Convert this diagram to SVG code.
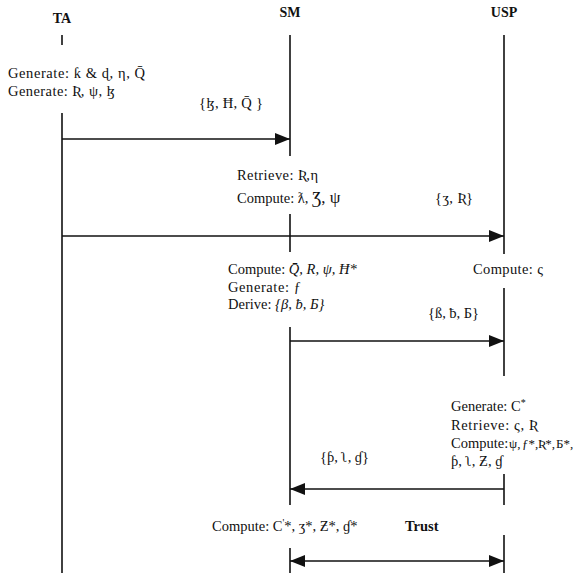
<svg xmlns="http://www.w3.org/2000/svg" width="573" height="573" viewBox="0 0 573 573">
<style>
text{font-family:"Liberation Serif","DejaVu Serif",serif;font-size:14.5px;fill:#111}
.h{font-weight:bold;font-size:14px;text-anchor:middle}
.b{font-weight:bold}
.i{font-style:italic}
.s{font-size:13px}
.life line{stroke:#111;stroke-width:1.6}
.msg line{stroke:#111;stroke-width:1.6}
</style>
<defs>
<marker id="ah" markerUnits="userSpaceOnUse" markerWidth="16" markerHeight="12" refX="15" refY="6" orient="auto">
<path d="M0,0 L15,6 L0,12 z" fill="#111"/>
</marker>
<marker id="as" markerUnits="userSpaceOnUse" markerWidth="16" markerHeight="12" refX="0" refY="6" orient="auto">
<path d="M15,0 L0,6 L15,12 z" fill="#111"/>
</marker>
</defs>
<g id="TA">
<text class="h" x="62" y="23">TA</text>
<text x="8" y="78" textLength="137">Generate: ƙ &amp; ɖ, η,  Q̄</text>
<text x="8" y="96" textLength="107">Generate: Ʀ, ψ, ɮ</text>
</g>
<g id="SM">
<text class="h" x="290" y="17">SM</text>
<text x="237" y="180" textLength="81">Retrieve: Ʀ,η</text>
<text x="237" y="203">Compute: ƛ, <tspan font-size="17">Ʒ, ψ</tspan></text>
<text x="228" y="274">Compute: <tspan class="i">Q̄, R, ψ, Ħ*</tspan></text>
<text x="228" y="292" textLength="73">Generate: ƒ</text>
<text x="228" y="309">Derive: <tspan class="i">{β, ƀ, Б}</tspan></text>
<text x="212" y="531">Compute: C<tspan font-size="10" dy="-5">'</tspan><tspan dy="5">*, ʒ*, Ƶ*, ɠ*</tspan></text>
</g>
<g id="USP">
<text class="h" x="504" y="17">USP</text>
<text x="473" y="274" textLength="70">Compute: ς</text>
<text x="451" y="411">Generate: C<tspan font-size="10" dy="-5">*</tspan></text>
<text x="451" y="430" textLength="86">Retrieve: ς, Ʀ</text>
<text x="451" y="448">Compute:</text>
<text class="s" x="509" y="448">ψ,</text>
<text class="s" x="522" y="448">ƒ*,</text>
<text class="s" x="538" y="448">Ʀ*,</text>
<text class="s" x="556" y="448">Б*,</text>
<text x="451" y="466">ƥ, ʅ,  Ƶ, ɠ</text>
</g>
<g id="Trust">
<text class="b" x="405" y="531">Trust</text>
</g>
<g id="lifelines" class="life">
<line x1="62" y1="35" x2="62" y2="45"/>
<line x1="62" y1="113" x2="62" y2="573"/>
<line x1="290" y1="35" x2="290" y2="156"/>
<line x1="290" y1="214" x2="290" y2="252"/>
<line x1="290" y1="327" x2="290" y2="505"/>
<line x1="290" y1="548" x2="290" y2="573"/>
<line x1="504" y1="35" x2="504" y2="254"/>
<line x1="504" y1="288" x2="504" y2="376"/>
<line x1="504" y1="474" x2="504" y2="505"/>
<line x1="504" y1="535" x2="504" y2="573"/>
</g>
<g id="connectors" class="msg">
<line x1="62" y1="139" x2="290" y2="139" marker-end="url(#ah)"/>
<text x="199" y="108" textLength="64">{ɮ, Ħ, Q̄ }</text>
<line x1="62" y1="236" x2="504" y2="236" marker-end="url(#ah)"/>
<text x="435" y="203" textLength="38">{ʒ, Ʀ}</text>
<line x1="290" y1="341" x2="504" y2="341" marker-end="url(#ah)"/>
<text x="428" y="318" textLength="51">{ß, ƀ, Б}</text>
<line x1="504" y1="489" x2="290" y2="489" marker-end="url(#ah)"/>
<text x="320" y="462" textLength="49">{ƥ, ʅ, ɠ}</text>
<line x1="290" y1="561" x2="504" y2="561" marker-start="url(#as)" marker-end="url(#ah)"/>
</g>
</svg>
